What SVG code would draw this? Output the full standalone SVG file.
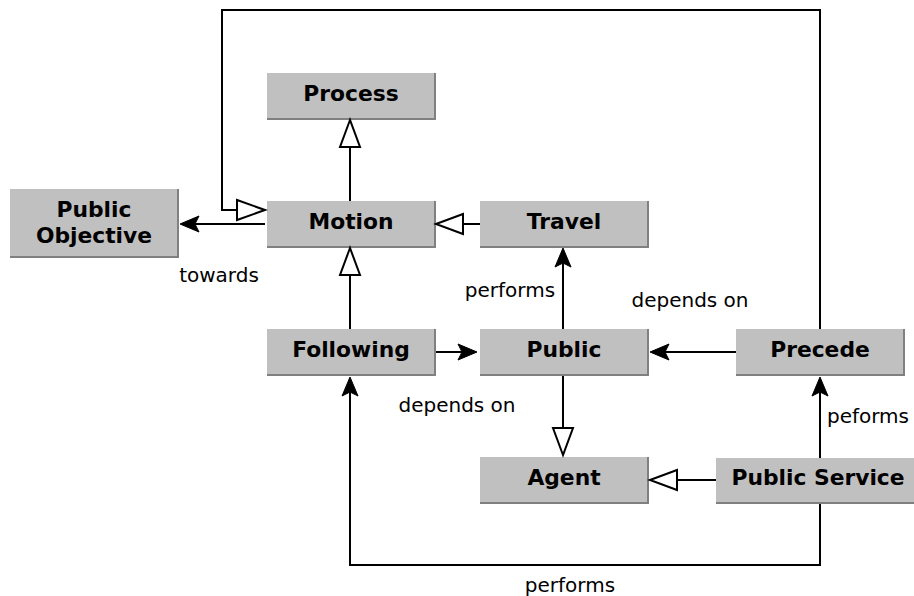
<svg xmlns="http://www.w3.org/2000/svg" width="914" height="596" viewBox="0 0 914 596">
<style>
.box{fill:#c0c0c0}
.edge{fill:none;stroke:#808080;stroke-width:2}
.nt{font-family:"DejaVu Sans",sans-serif;font-weight:bold;font-size:21.8px;text-anchor:middle;fill:#000}
.lb{font-family:"DejaVu Sans",sans-serif;font-size:20px;text-anchor:middle;fill:#000}
.ln{fill:none;stroke:#000;stroke-width:2}
.hol{fill:#fff;stroke:#000;stroke-width:2}
.fil{fill:#000;stroke:#000;stroke-width:1}
</style>
<rect width="914" height="596" fill="#fff"/>
<g id="process"><rect class="box" x="267" y="73" width="168" height="46"/><polyline class="edge" points="267,119 435,119 435,73"/><text class="nt" x="351" y="101">Process</text></g>
<g id="motion"><rect class="box" x="267" y="201" width="168" height="46"/><polyline class="edge" points="267,247 435,247 435,201"/><text class="nt" x="351" y="229">Motion</text></g>
<g id="travel"><rect class="box" x="480" y="201" width="168" height="46"/><polyline class="edge" points="480,247 648,247 648,201"/><text class="nt" x="564" y="229">Travel</text></g>
<g id="public-objective"><rect class="box" x="10" y="189" width="168" height="68"/><polyline class="edge" points="10,257 178,257 178,189"/><text class="nt" x="94" y="217">Public</text><text class="nt" x="94" y="243">Objective</text></g>
<g id="following"><rect class="box" x="267" y="329" width="168" height="46"/><polyline class="edge" points="267,375 435,375 435,329"/><text class="nt" x="351" y="357">Following</text></g>
<g id="public"><rect class="box" x="480" y="329" width="168" height="46"/><polyline class="edge" points="480,375 648,375 648,329"/><text class="nt" x="564" y="357">Public</text></g>
<g id="precede"><rect class="box" x="736" y="329" width="168" height="46"/><polyline class="edge" points="736,375 904,375 904,329"/><text class="nt" x="820" y="357">Precede</text></g>
<g id="agent"><rect class="box" x="480" y="457" width="168" height="46"/><polyline class="edge" points="480,503 648,503 648,457"/><text class="nt" x="564" y="485">Agent</text></g>
<g id="public-service"><rect class="box" x="716" y="458" width="198" height="45"/><polyline class="edge" points="716,503 914,503"/><text class="nt" x="818" y="485">Public Service</text></g>
<g id="connectors">
<line class="ln" x1="350" y1="201" x2="350" y2="147"/>
<polygon class="hol" points="350,120 340,147 360,147"/>
<polyline class="ln" points="820,329 820,10 222,10 222,210 237,210"/>
<polygon class="hol" points="265,210 237,200 237,220"/>
<line class="ln" x1="265" y1="224" x2="195" y2="224"/>
<polygon class="fil" points="180,224 199,216 195,224 199,232"/>
<line class="ln" x1="480" y1="224" x2="463" y2="224"/>
<polygon class="hol" points="436,224 463,214 463,234"/>
<line class="ln" x1="350" y1="329" x2="350" y2="275"/>
<polygon class="hol" points="350,248 340,275 360,275"/>
<line class="ln" x1="563" y1="329" x2="563" y2="263"/>
<polygon class="fil" points="563,248 571,267 563,263 555,267"/>
<line class="ln" x1="436" y1="352" x2="462" y2="352"/>
<polygon class="fil" points="477,352 458,344 462,352 458,360"/>
<line class="ln" x1="736" y1="352" x2="665" y2="352"/>
<polygon class="fil" points="650,352 669,344 665,352 669,360"/>
<line class="ln" x1="563" y1="376" x2="563" y2="428"/>
<polygon class="hol" points="563,455 553,428 573,428"/>
<line class="ln" x1="716" y1="480" x2="677" y2="480"/>
<polygon class="hol" points="650,480 677,470 677,490"/>
<line class="ln" x1="820" y1="458" x2="820" y2="392"/>
<polygon class="fil" points="820,377 828,396 820,392 812,396"/>
<polyline class="ln" points="820,504 820,565 350,565 350,392"/>
<polygon class="fil" points="350,377 358,396 350,392 342,396"/>
</g>
<g id="labels">
<text class="lb" x="219" y="282">towards</text>
<text class="lb" x="510" y="297">performs</text>
<text class="lb" x="690" y="307">depends on</text>
<text class="lb" x="457" y="412">depends on</text>
<text class="lb" x="868" y="423">peforms</text>
<text class="lb" x="570" y="592">performs</text>
</g>
</svg>
